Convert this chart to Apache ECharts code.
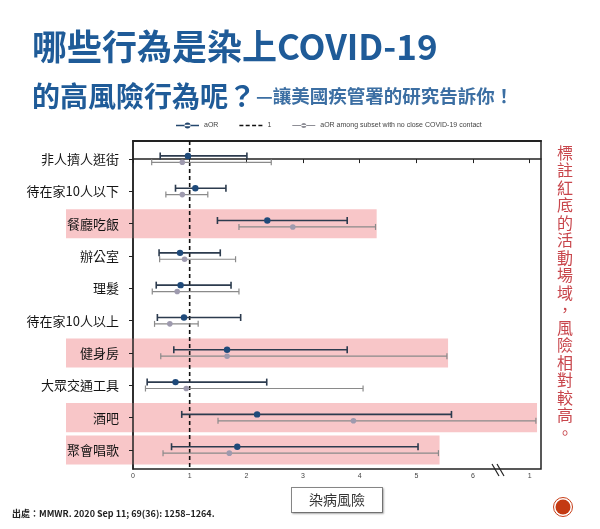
<!DOCTYPE html>
<html>
<head>
<meta charset="utf-8">
<script src="https://cdn.jsdelivr.net/npm/echarts@6/dist/echarts.min.js"></script>
<style>
html,body{margin:0;padding:0;background:#fff;}
#main{width:600px;height:529px;}
</style>
</head>
<body>
<div id="main"></div>
<script>
// ---- data ----
const categories = ['非人擠人逛街','待在家10人以下','餐廳吃飯','辦公室','理髮','待在家10人以上','健身房','大眾交通工具','酒吧','聚會唱歌'];
const aorValue = [0.97, 1.10, 2.37, 0.83, 0.84, 0.90, 1.66, 0.75, 2.19, 1.84];
const aorLow   = [0.48, 0.75, 1.49, 0.46, 0.41, 0.43, 0.72, 0.25, 0.86, 0.68];
const aorHigh  = [2.01, 1.64, 3.78, 1.54, 1.73, 1.90, 3.78, 2.36, 5.62, 5.03];
const subValue = [0.87, 0.87, 2.82, 0.91, 0.78, 0.65, 1.66, 0.94, 3.89, 1.70];
const subLow   = [0.33, 0.58, 1.87, 0.47, 0.34, 0.38, 0.49, 0.22, 1.50, 0.53];
const subHigh  = [2.44, 1.32, 4.28, 1.81, 1.87, 1.15, 5.54, 4.06, 7.11, 5.39];
const highlighted = [2, 6, 8, 9];
const referenceValue = 1;
const xTickValues = [0, 1, 2, 3, 4, 5, 6, 7];
const xTickLabels = ['0', '1', '2', '3', '4', '5', '6', '1'];
const seriesNames = ['aOR', '1', 'aOR among subset with no close COVID-19 contact'];

// ---- build ----
const FONT = 'Noto Sans CJK TC';
const catIdx = categories.map((c, i) => i);
const aorData = catIdx.map(i => [aorLow[i], aorHigh[i], aorValue[i], i]);
const subData = catIdx.map(i => [subLow[i], subHigh[i], subValue[i], i]);
const bandData = highlighted.map(i => [Math.max(aorHigh[i], subHigh[i]) + 0.02, i]);

function errRender(offset, lineColor, lineW, capH, dotColor, dotR) {
  return function (params, api) {
    const cat = api.value(3);
    const pLo = api.coord([api.value(0), cat]);
    const pHi = api.coord([api.value(1), cat]);
    const pMid = api.coord([api.value(2), cat]);
    const y = pLo[1] + offset;
    const st = { stroke: lineColor, lineWidth: lineW };
    return {
      type: 'group',
      children: [
        { type: 'line', shape: { x1: pLo[0], y1: y, x2: pHi[0], y2: y }, style: st },
        { type: 'line', shape: { x1: pLo[0], y1: y - capH / 2, x2: pLo[0], y2: y + capH / 2 }, style: st },
        { type: 'line', shape: { x1: pHi[0], y1: y - capH / 2, x2: pHi[0], y2: y + capH / 2 }, style: st },
        { type: 'circle', shape: { cx: pMid[0], cy: y, r: dotR }, style: { fill: dotColor } }
      ]
    };
  };
}

const iconDot = 'path://M0,2.25h23v1.5h-23z M8.5,3a3,3 0 1,0 6,0a3,3 0 1,0 -6,0z';
const iconDotSmall = 'path://M0,2.4h23v1.2h-23z M9,3a2.5,2.5 0 1,0 5,0a2.5,2.5 0 1,0 -5,0z';
const iconDash = 'path://M0,2.25h4v1.5h-4z M6.3,2.25h4v1.5h-4z M12.7,2.25h4v1.5h-4z M19,2.25h4v1.5h-4z';

const chart = echarts.init(document.getElementById('main'));
const vertText = '標註紅底的活動場域，風險相對較高。'.split('').join('\n');

chart.setOption({
  backgroundColor: '#fff',
  animation: false,
  title: [
    { text: '哪些行為是染上COVID-19', left: 32, top: 27, padding: 0,
      textStyle: { fontFamily: FONT, fontSize: 35, fontWeight: 'bold', color: '#1f5b98', lineHeight: 40 } },
    { text: '{b|的高風險行為呢？}{c|—讓美國疾管署的研究告訴你！}', left: 32, top: 79, padding: 0,
      textStyle: { rich: {
        b: { fontFamily: FONT, fontSize: 28, fontWeight: 'bold', color: '#1f5b98', lineHeight: 34 },
        c: { fontFamily: FONT, fontSize: 18.5, fontWeight: 'bold', color: '#3c6fa3', lineHeight: 34 }
      } } }
  ],
  legend: {
    left: 176, top: 122, padding: 0, itemWidth: 23, itemHeight: 6, itemGap: 21,
    selectedMode: false,
    textStyle: { fontFamily: 'Liberation Sans', fontSize: 7, color: '#444' },
    data: [
      { name: seriesNames[0], icon: iconDot },
      { name: seriesNames[1], icon: iconDash },
      { name: seriesNames[2], icon: iconDotSmall }
    ]
  },
  grid: { left: 133, right: 59, top: 141, bottom: 60, show: true, borderColor: '#222', borderWidth: 1.5,
          backgroundColor: 'transparent', outerBoundsMode: 'none' },
  xAxis: [
    { type: 'value', min: 0, max: 7.2, position: 'bottom',
      splitLine: { show: false },
      axisLine: { show: true, lineStyle: { color: '#222', width: 1.5 } },
      axisTick: { show: true, length: 4, lineStyle: { color: '#222' }, customValues: xTickValues },
      axisLabel: { fontSize: 7, color: '#444', margin: 4, fontFamily: 'Liberation Sans',
        customValues: xTickValues,
        formatter: v => { const k = xTickValues.indexOf(v); return k >= 0 ? xTickLabels[k] : ''; } },
      name: '染病風險', nameLocation: 'middle', nameGap: 19,
      nameTextStyle: { fontFamily: FONT, fontSize: 14, color: '#333', lineHeight: 16,
        borderColor: '#888', borderWidth: 1, padding: [4, 17], backgroundColor: '#fff',
        shadowColor: 'rgba(0,0,0,0.25)', shadowOffsetX: 1, shadowOffsetY: 1, shadowBlur: 2 } },
    { type: 'value', min: 0, max: 7.2, position: 'top',
      splitLine: { show: false }, axisTick: { show: false }, axisLabel: { show: false },
      axisLine: { show: true, lineStyle: { color: '#222', width: 2 } } }
  ],
  yAxis: {
    type: 'value', inverse: true, min: -0.56, max: 9.59, z: 10,
    splitLine: { show: false },
    axisLine: { show: true, lineStyle: { color: '#222', width: 1.5 } },
    axisTick: { show: true, length: 4, lineStyle: { color: '#222' }, customValues: catIdx },
    axisLabel: { fontFamily: FONT, fontSize: 13, color: '#151515', margin: 14,
      customValues: catIdx,
      formatter: v => (Number.isInteger(v) && categories[v] !== undefined) ? categories[v] : '' }
  },
  series: [
    { type: 'custom', name: 'band', z: 1, silent: true, clip: false,
      encode: { x: 0, y: 1 }, data: bandData,
      renderItem: function (params, api) {
        const c = api.coord([api.value(0), api.value(1)]);
        const h = api.size([0, 1])[1] * 0.9;
        const x0 = params.coordSys.x - 67;
        return { type: 'rect', shape: { x: x0, y: c[1] - h / 2, width: c[0] - x0, height: h },
                 style: { fill: '#f8c6c8' } };
      } },
    { type: 'custom', name: seriesNames[1], z: 3, silent: true, clip: false,
      itemStyle: { color: '#111' },
      encode: { x: 0, y: 1 }, data: [[referenceValue, 0]],
      renderItem: function (params, api) {
        const x = api.coord([api.value(0), 0])[0];
        const cs = params.coordSys;
        return { type: 'line', shape: { x1: x, y1: cs.y, x2: x, y2: cs.y + cs.height },
                 style: { stroke: '#111', lineWidth: 1.6, lineDash: [4, 3] } };
      } },
    { type: 'custom', name: seriesNames[2], z: 4, silent: true,
      itemStyle: { color: '#8e8e96' },
      encode: { x: [0, 1, 2], y: 3 }, data: subData,
      renderItem: errRender(3.2, '#8a8a8a', 1.2, 6, '#9e9aae', 2.8) },
    { type: 'custom', name: seriesNames[0], z: 5, silent: true,
      itemStyle: { color: '#24476e' },
      encode: { x: [0, 1, 2], y: 3 }, data: aorData,
      renderItem: errRender(-3.2, '#2c3b4e', 1.6, 7, '#1f4a7a', 3.2) }
  ],
  graphic: [
    { type: 'text', left: 12, top: 509, z: 20,
      style: { text: '出處：MMWR. 2020 Sep 11; 69(36): 1258–1264.', fontFamily: FONT, fontSize: 9,
               fontWeight: 'bold', fill: '#222' } },
    { type: 'text', x: 565, y: 144, z: 20,
      style: { text: vertText, fontFamily: FONT, fontSize: 16, lineHeight: 17.5, fill: '#c8464c',
               align: 'center', verticalAlign: 'top' } },
    { type: 'line', z: 20, shape: { x1: 492, y1: 464, x2: 499, y2: 476 }, style: { stroke: '#222', lineWidth: 1.2 } },
    { type: 'line', z: 20, shape: { x1: 497, y1: 464, x2: 504, y2: 476 }, style: { stroke: '#222', lineWidth: 1.2 } },
    { type: 'circle', z: 20, shape: { cx: 563, cy: 507, r: 9.5 }, style: { fill: 'none', stroke: '#c8401a', lineWidth: 1 } },
    { type: 'circle', z: 20, shape: { cx: 563, cy: 507, r: 7.5 }, style: { fill: '#c43a12' } }
  ]
});
</script>
</body>
</html>
